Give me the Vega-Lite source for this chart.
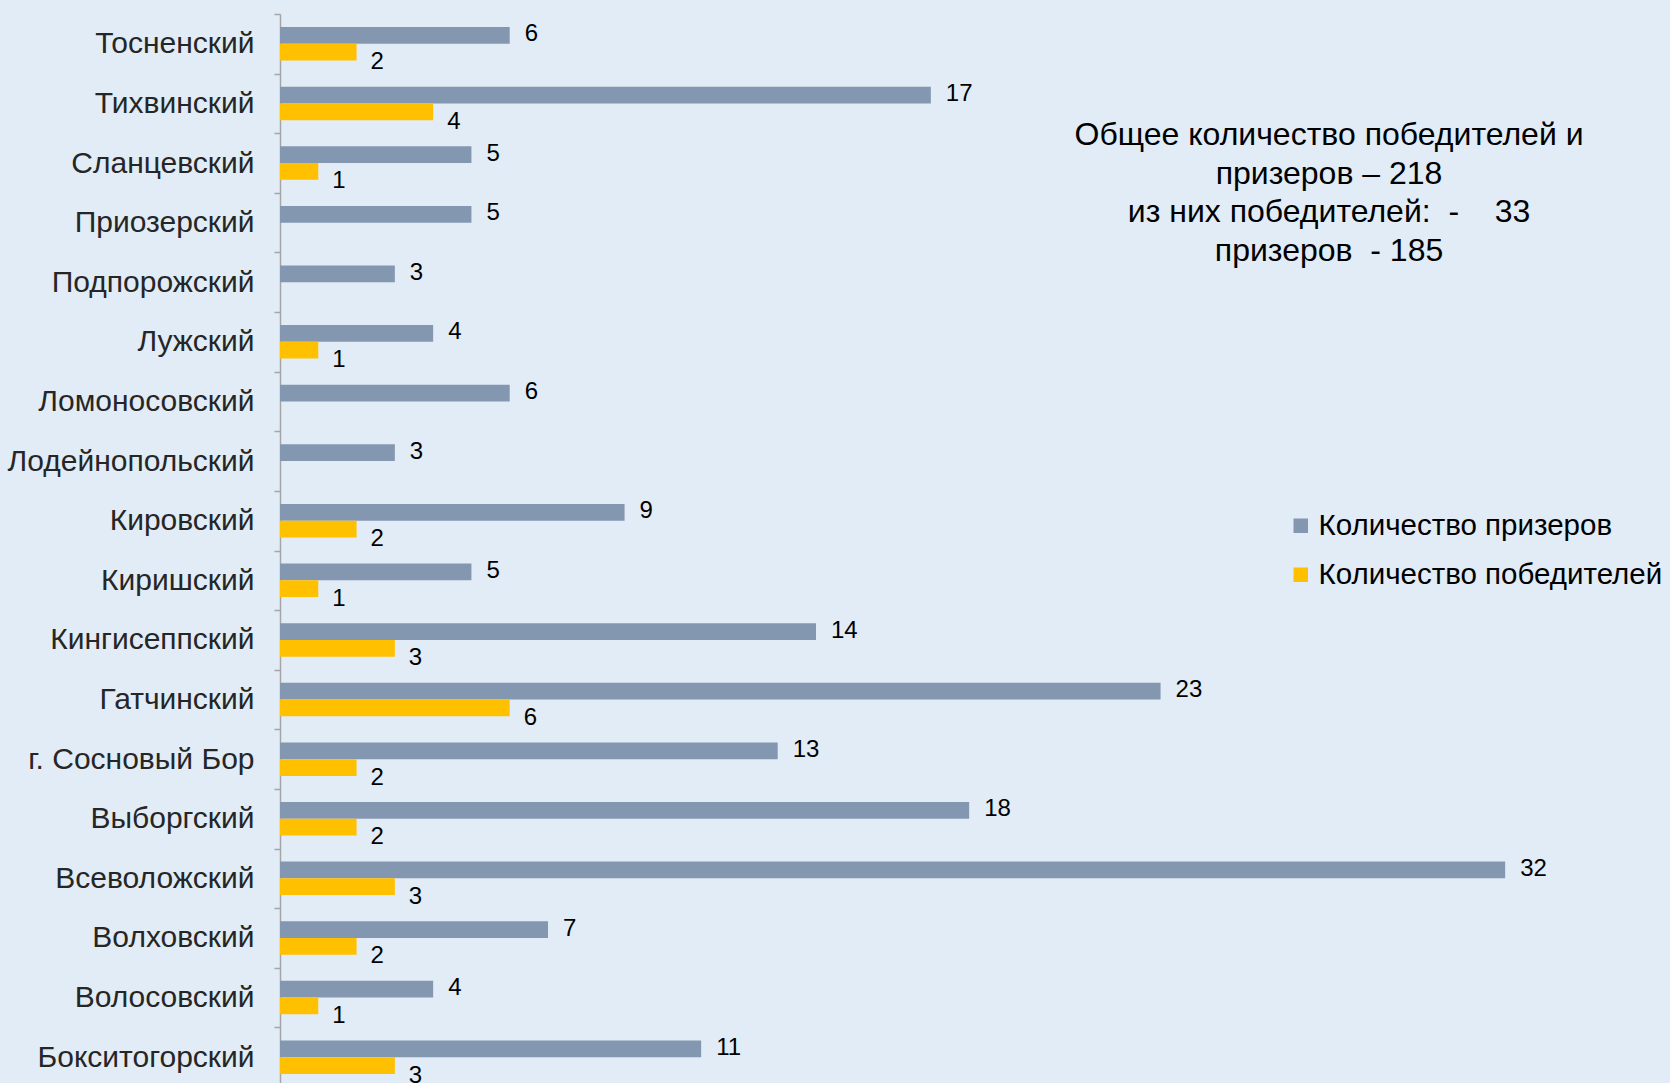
{
  "$schema": "https://vega.github.io/schema/vega-lite/v6.json",
  "width": 1340,
  "height": 1073,
  "autosize": {"type": "none"},
  "padding": {"left": 280, "top": 14, "right": 50, "bottom": 0},
  "background": "#e1ecf7",
  "config": {"view": {"stroke": null}, "font": "Liberation Sans"},
  "data": {
    "values": [
      {"region": "Тосненский", "series": "Количество призеров", "value": 6},
      {"region": "Тосненский", "series": "Количество победителей", "value": 2},
      {"region": "Тихвинский", "series": "Количество призеров", "value": 17},
      {"region": "Тихвинский", "series": "Количество победителей", "value": 4},
      {"region": "Сланцевский", "series": "Количество призеров", "value": 5},
      {"region": "Сланцевский", "series": "Количество победителей", "value": 1},
      {"region": "Приозерский", "series": "Количество призеров", "value": 5},
      {"region": "Подпорожский", "series": "Количество призеров", "value": 3},
      {"region": "Лужский", "series": "Количество призеров", "value": 4},
      {"region": "Лужский", "series": "Количество победителей", "value": 1},
      {"region": "Ломоносовский", "series": "Количество призеров", "value": 6},
      {"region": "Лодейнопольский", "series": "Количество призеров", "value": 3},
      {"region": "Кировский", "series": "Количество призеров", "value": 9},
      {"region": "Кировский", "series": "Количество победителей", "value": 2},
      {"region": "Киришский", "series": "Количество призеров", "value": 5},
      {"region": "Киришский", "series": "Количество победителей", "value": 1},
      {"region": "Кингисеппский", "series": "Количество призеров", "value": 14},
      {"region": "Кингисеппский", "series": "Количество победителей", "value": 3},
      {"region": "Гатчинский", "series": "Количество призеров", "value": 23},
      {"region": "Гатчинский", "series": "Количество победителей", "value": 6},
      {"region": "г. Сосновый Бор", "series": "Количество призеров", "value": 13},
      {"region": "г. Сосновый Бор", "series": "Количество победителей", "value": 2},
      {"region": "Выборгский", "series": "Количество призеров", "value": 18},
      {"region": "Выборгский", "series": "Количество победителей", "value": 2},
      {"region": "Всеволожский", "series": "Количество призеров", "value": 32},
      {"region": "Всеволожский", "series": "Количество победителей", "value": 3},
      {"region": "Волховский", "series": "Количество призеров", "value": 7},
      {"region": "Волховский", "series": "Количество победителей", "value": 2},
      {"region": "Волосовский", "series": "Количество призеров", "value": 4},
      {"region": "Волосовский", "series": "Количество победителей", "value": 1},
      {"region": "Бокситогорский", "series": "Количество призеров", "value": 11},
      {"region": "Бокситогорский", "series": "Количество победителей", "value": 3}
    ]
  },
  "encoding": {
    "y": {
      "field": "region",
      "type": "nominal",
      "sort": ["Тосненский", "Тихвинский", "Сланцевский", "Приозерский", "Подпорожский", "Лужский", "Ломоносовский", "Лодейнопольский", "Кировский", "Киришский", "Кингисеппский", "Гатчинский", "г. Сосновый Бор", "Выборгский", "Всеволожский", "Волховский", "Волосовский", "Бокситогорский"],
      "scale": {"paddingInner": 0, "paddingOuter": 0},
      "axis": {
        "title": null,
        "domainColor": "#a6a6a6",
        "domainWidth": 1.5,
        "tickColor": "#a6a6a6",
        "tickWidth": 1.5,
        "tickSize": 6,
        "tickBand": "extent",
        "labelFontSize": 30,
        "labelColor": "#262626",
        "labelPadding": 20,
        "labelLimit": 400,
        "labelFont": "Liberation Sans"
      }
    },
    "yOffset": {
      "field": "series",
      "type": "nominal",
      "sort": ["Количество призеров", "Количество победителей"],
      "scale": {"paddingInner": 0, "paddingOuter": 0.78}
    },
    "x": {
      "field": "value",
      "type": "quantitative",
      "scale": {"domain": [0, 35], "nice": false},
      "axis": null
    }
  },
  "layer": [
    {
      "mark": {"type": "bar"},
      "encoding": {
        "color": {
          "field": "series",
          "type": "nominal",
          "scale": {"domain": ["Количество призеров", "Количество победителей"], "range": ["#8497b0", "#ffc000"]},
          "legend": {
            "title": null,
            "orient": "none",
            "legendX": 1006,
            "legendY": 497,
            "symbolType": "square",
            "symbolSize": 210,
            "symbolStrokeWidth": 0,
            "symbolOpacity": 1,
            "labelFontSize": 29.5,
            "labelColor": "#000000",
            "labelOffset": 3,
            "rowPadding": 18,
            "labelLimit": 600
          }
        }
      }
    },
    {
      "transform": [{"filter": "datum.series === 'Количество призеров'"}],
      "mark": {"type": "text", "align": "left", "baseline": "middle", "dx": 15, "dy": -1, "fontSize": 24, "color": "#000000"},
      "encoding": {"text": {"field": "value", "type": "quantitative"}}
    },
    {
      "transform": [{"filter": "datum.series === 'Количество победителей'"}],
      "mark": {"type": "text", "align": "left", "baseline": "middle", "dx": 14, "dy": 10, "fontSize": 24, "color": "#000000"},
      "encoding": {"text": {"field": "value", "type": "quantitative"}}
    },
    {
      "data": {"values": [{"region": "Тихвинский", "series": "Количество призеров", "value": 27.4}]},
      "mark": {
        "type": "text",
        "text": ["Общее количество победителей и", "призеров – 218", "из них победителей:  \u00a0-\u00a0\u00a0\u00a0 33", "призеров \u00a0- 185"],
        "align": "center",
        "baseline": "top",
        "lineHeight": 38.5,
        "fontSize": 32,
        "color": "#000000",
        "dy": 25
      }
    }
  ]
}
